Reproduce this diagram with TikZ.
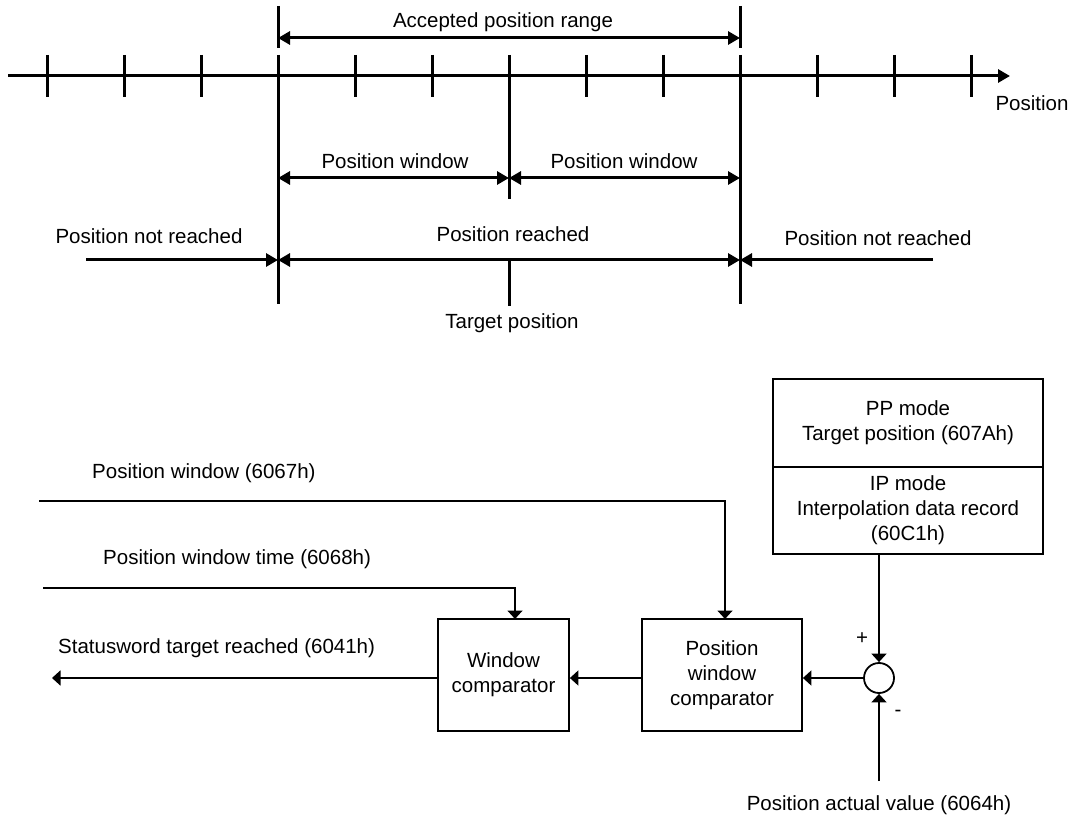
\documentclass[tikz,border=0pt]{standalone}
\usepackage{fontspec}
\setmainfont{Liberation Sans}
\usetikzlibrary{arrows.meta}
\begin{document}
\begin{tikzpicture}[x=1pt,y=-1pt,
  txt/.style={font=\fontsize{20.5}{25}\selectfont, inner sep=0pt, align=center},
  thk/.style={line width=3pt},
  thn/.style={line width=1.8pt},
  bighead/.style={-{Triangle[length=12pt,width=13pt]}},
  bigboth/.style={{Triangle[length=12pt,width=13pt]}-{Triangle[length=12pt,width=13pt]}},
  smallhead/.style={-{Triangle[length=8.5pt,width=15pt]}},
  box/.style={draw, line width=1.8pt, font=\fontsize{20.5}{25}\selectfont, align=center, inner sep=0pt}
]
\path[use as bounding box] (0,0) rectangle (1074,821);

% ---------- top: position axis ----------
\coordinate (ax0) at (8,76);
\coordinate (ax1) at (1010,76);
\draw[thk,-{Triangle[length=12pt,width=13pt]}] (ax0) -- (ax1);
\foreach \i in {0,1,2,4,5,7,8,10,11,12}
  \draw[thk] (47+77*\i,55) -- (47+77*\i,97);

% long marker lines
\coordinate (la) at (278,6);   \coordinate (lb) at (278,48);
\coordinate (lc) at (278,55);  \coordinate (ld) at (278,304);
\coordinate (ra) at (740,6);   \coordinate (rb) at (740,48);
\coordinate (rc) at (740,55);  \coordinate (rd) at (740,304);
\coordinate (ma) at (509,55);  \coordinate (mb) at (509,199);
\coordinate (mc) at (509,260); \coordinate (md) at (509,306);
\draw[thk] (la) -- (lb);
\draw[thk] (lc) -- (ld);
\draw[thk] (ra) -- (rb);
\draw[thk] (rc) -- (rd);
\draw[thk] (ma) -- (mb);
\draw[thk] (mc) -- (md);

% dimension arrows
\coordinate (accL) at (278,38);  \coordinate (accR) at (740,38);
\coordinate (pwL) at (278,178);  \coordinate (pwM) at (509,178); \coordinate (pwR) at (740,178);
\coordinate (prL) at (278,260);  \coordinate (prR) at (740,260);
\coordinate (nrL) at (86,260);   \coordinate (nrR) at (933,260);
\draw[thk,bigboth] (accL) -- (accR);
\draw[thk,bigboth] (pwL) -- (pwM);
\draw[thk,bigboth] (pwM) -- (pwR);
\draw[thk,bigboth] (prL) -- (prR);
\draw[thk,bighead] (nrL) -- (prL);
\draw[thk,bighead] (nrR) -- (prR);

% top labels
\node[txt] (acc) at (503,22) {Accepted position range};
\node[txt] (pw1) at (395,161) {Position window};
\node[txt] (pw2) at (624,161) {Position window};
\node[txt] (pnr1) at (149,236) {Position not reached};
\node[txt] (pr) at (513,234) {Position reached};
\node[txt] (pnr2) at (878,238) {Position not reached};
\node[txt] (tp) at (512,323) {Target position};
\node[txt] (posl) at (1032,103) {Position};

% ---------- bottom: block diagram ----------
\node[box, minimum width=270pt, minimum height=88pt] (pp) at (908,423) {PP mode\\Target position (607Ah)};
\node[box, minimum width=270pt, minimum height=87pt] (ip) at (908,510.5) {IP mode\\Interpolation data record\\(60C1h)};
\node[draw, circle, line width=1.8pt, minimum size=30pt, inner sep=0pt] (sum) at (879,678) {};
\node[box, minimum width=160pt, minimum height=112pt] (pwc) at (722,675) {Position\\window\\comparator};
\node[box, minimum width=131pt, minimum height=112pt] (wc) at (503.5,675) {Window\\comparator};

\coordinate (pav) at (879,781);
\coordinate (sw) at (52,678);
\coordinate (pwin) at (39,501);
\coordinate (pwtin) at (43,588);
\coordinate (pwcin) at (725,619);
\coordinate (wcin) at (515,619);

\draw[thn,smallhead] (sum |- ip.south) -- (sum.north);
\draw[thn,smallhead] (pav) -- (sum.south);
\draw[thn,smallhead] (sum.west) -- (sum.west -| pwc.east);
\draw[thn,smallhead] (pwc.west |- sum) -- (wc.east |- sum);
\draw[thn,smallhead] (wc.west |- sum) -- (sw);
\draw[thn,smallhead] (pwin) -| (pwcin);
\draw[thn,smallhead] (pwtin) -| (wcin);

\node[txt, anchor=west] (lpw) at (92,473) {Position window (6067h)};
\node[txt, anchor=west] (lpwt) at (103,559) {Position window time (6068h)};
\node[txt, anchor=west] (lsw) at (58,648) {Statusword target reached (6041h)};
\node[txt] (lpav) at (879,805) {Position actual value (6064h)};
\node[txt] (plus) at (862,639) {+};
\node[txt] (minus) at (898,713) {-};
\end{tikzpicture}
\end{document}
